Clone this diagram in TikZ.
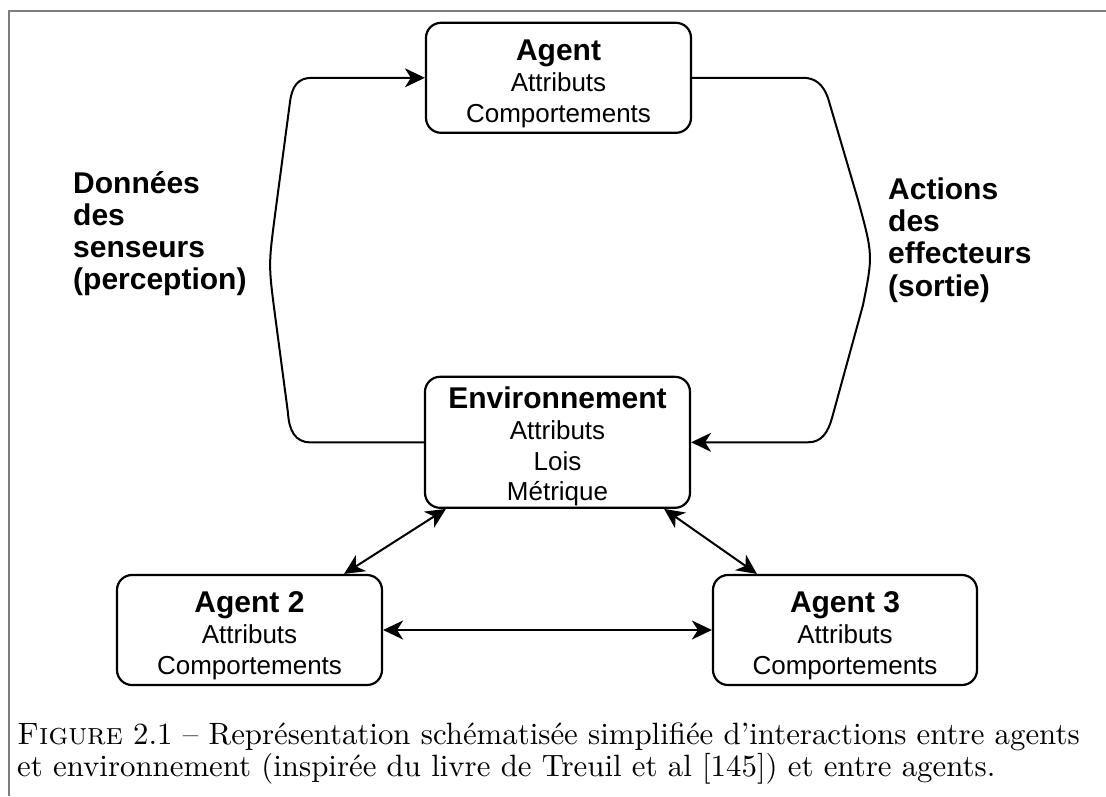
\documentclass[tikz,border=0pt]{standalone}
\usepackage{fontspec}
\usepackage{graphicx}
\newfontfamily\arialfont{Liberation Sans}
\usetikzlibrary{arrows.meta,calc}
\definecolor{framegray}{RGB}{125,125,125}
\tikzset{
  box/.style={draw, line width=2.2pt, rounded corners=15pt, minimum width=265pt, inner sep=0pt},
  boldtxt/.style={anchor=base, inner sep=0pt, font=\arialfont\bfseries\fontsize{30}{34}\selectfont},
  regtxt/.style={anchor=base, inner sep=0pt, font=\arialfont\fontsize{26}{30}\selectfont},
  lbl/.style={anchor=base west, inner sep=0pt, font=\arialfont\bfseries\fontsize{30}{34}\selectfont},
  conn/.style={line width=2pt, line join=round},
  tip/.style={-{Stealth[length=20pt,width=19pt,inset=6pt]}},
  both/.style={{Stealth[length=20pt,width=19pt,inset=6pt]}-{Stealth[length=20pt,width=19pt,inset=6pt]}},
  captxt/.style={anchor=base west, inner sep=0pt, font=\rmfamily\fontsize{10}{10.46}\selectfont},
}
\begin{document}
\begin{tikzpicture}[x=1pt, y=-1pt]
\fill[white] (0,0) rectangle (1106,796);
\useasboundingbox (0,0) rectangle (1106,796);
% frame
\draw[framegray, line width=1.5pt] (1106,11) -- (9,11) -- (9,796);

% boxes
\node[box, minimum height=110pt] (agent) at (558.5,77.8) {};
\node[box, minimum height=131pt] (env) at (557.5,442.3) {};
\node[box, minimum height=110pt] (agent2) at (249.5,630) {};
\node[box, minimum height=110pt, minimum width=264pt] (agent3) at (845,630) {};

% box texts
\node[boldtxt] (agentA) at (558.5,60) {Agent};
\node[regtxt] (agentB) at (558.5,91) {Attributs};
\node[regtxt] (agentC) at (558.5,122) {Comportements};

\node[boldtxt] (envA) at (557.5,408) {Environnement};
\node[regtxt] (envB) at (557.5,439) {Attributs};
\node[regtxt] (envC) at (557.5,470) {Lois};
\node[regtxt] (envD) at (557.5,500) {Métrique};

\node[boldtxt] (agent2A) at (249.5,612) {Agent 2};
\node[regtxt] (agent2B) at (249.5,643) {Attributs};
\node[regtxt] (agent2C) at (249.5,674) {Comportements};

\node[boldtxt] (agent3A) at (845,612) {Agent 3};
\node[regtxt] (agent3B) at (845,643) {Attributs};
\node[regtxt] (agent3C) at (845,674) {Comportements};

% side labels
\node[lbl] (l1) at (73,193) {Données};
\node[lbl] (l2) at (73,225) {des};
\node[lbl] (l3) at (73,257) {senseurs};
\node[lbl] (l4) at (73,289) {(perception)};

\node[lbl] (r1) at (888,199) {Actions};
\node[lbl] (r2) at (888,231) {des};
\node[lbl] (r3) at (888,263) {effecteurs};
\node[lbl] (r4) at (888,296) {(sortie)};

% connectors
\draw[conn, tip] (env.west) -- (310,442.3)
  .. controls (295,442.3) and (289,430) .. (288,413)
  -- (275,315) .. controls (268.5,265) .. (275,215)
  -- (290,102) .. controls (292,86) and (298,77.8) .. (312,77.8)
  -- (agent.west);

\draw[conn, tip] (agent.east) -- (803,77.8)
  .. controls (815,77.8) and (823,84) .. (828,98)
  -- (858,200) .. controls (873,255) .. (863,305)
  -- (832,418) .. controls (828,432) and (822,442.3) .. (808,442.3)
  -- (env.east);

\draw[conn, both] ($(env.south west)+(22,0)$) -- ($(agent2.north east)+(-39,0)$);
\draw[conn, both] ($(env.south east)+(-27,0)$) -- ($(agent3.north west)+(45,0)$);
\draw[conn, both] (agent2.east) -- (agent3.west);

% caption (scaled so that the second line is 978pt wide)
\node[captxt] (cap) at (17,744)
  {\resizebox{978pt}{!}{\begin{tabular}[t]{@{}l@{}}\makebox[0pt][l]{\textsc{Figure} 2.1 \textendash{} Représentation schématisée simplifiée d’interactions entre agents}\\
  et environnement (inspirée du livre de Treuil et al [145]) et entre agents.\end{tabular}}};
\end{tikzpicture}
\end{document}
